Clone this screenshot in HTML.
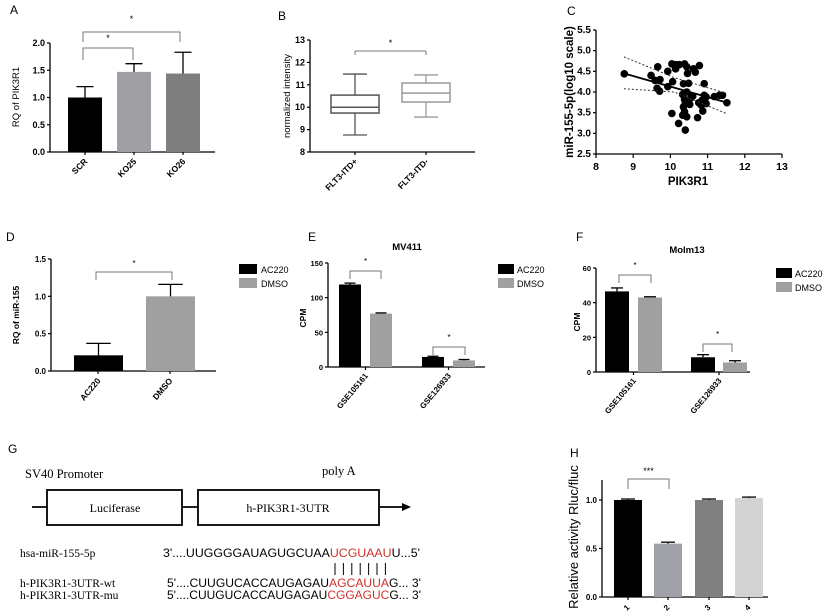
<!DOCTYPE html>
<html><head><meta charset="utf-8"><style>
html,body{margin:0;padding:0;background:#fff;}
svg{display:block;font-family:"Liberation Sans",sans-serif;}
</style></head><body>
<svg id="fig" width="824" height="616" viewBox="0 0 824 616"></svg>
<script>
// ---------- data ----------
const aCats=['SCR','KO25','KO26'];
const aVals=[1.0,1.47,1.44];
const aErr=[1.2,1.62,1.83];
const aTicks=[0,0.5,1.0,1.5,2.0];
const bCats=['FLT3-ITD+','FLT3-ITD-'];
const bMin=[8.76,9.56];
const bQ1=[9.74,10.23];
const bMed=[10.0,10.63];
const bQ3=[10.54,11.08];
const bMax=[11.48,11.44];
const bTicks=[8,9,10,11,12,13];
const cX=[8.76,9.48,9.59,9.66,9.72,9.64,9.71,9.93,9.93,10.04,10.06,10.04,10.14,10.15,10.24,10.33,10.22,10.38,10.35,10.44,10.46,10.49,10.44,10.38,10.40,10.35,10.38,10.33,10.40,10.44,10.49,10.55,10.6,10.62,10.67,10.73,10.76,10.78,10.83,10.85,10.87,10.91,10.91,10.96,10.96,11.18,11.32,11.40,11.52,10.42,10.52];
const cY=[4.44,4.40,4.28,4.61,4.30,4.09,4.02,4.50,4.13,4.68,4.25,3.48,4.56,4.66,4.66,3.94,3.24,4.68,4.20,4.61,4.45,4.21,4.00,3.82,3.72,3.64,3.52,3.44,3.08,3.40,3.78,3.86,3.9,4.56,4.48,3.38,3.74,4.64,3.68,3.80,3.54,4.20,3.92,3.72,3.88,3.89,3.92,3.92,3.74,3.78,3.70];
const cFit=[[8.75,4.45],[11.5,3.75]];
const cUpper=[[8.75,4.85],[10.1,4.35],[11.5,3.97]];
const cLower=[[8.75,4.08],[10.1,4.0],[11.5,3.48]];
const cXTicks=[8,9,10,11,12,13];
const cYTicks=[2.5,3.0,3.5,4.0,4.5,5.0,5.5];
const dCats=['AC220','DMSO'];
const dVals=[0.21,1.0];
const dErr=[0.37,1.16];
const dTicks=[0,0.5,1.0,1.5];
const eCats=['GSE105161','GSE126933'];
const eAC=[119,14.5];
const eACErr=[121,15.5];
const eDM=[77,9.5];
const eDMErr=[78,10.8];
const eTicks=[0,50,100,150];
const fAC=[46.5,8.5];
const fACErr=[48.5,10];
const fDM=[43,5.5];
const fDMErr=[43.4,6.5];
const fTicks=[0,20,40,60];
const hCats=['1','2','3','4'];
const hVals=[1.0,0.55,1.0,1.02];
const hErr=[1.01,0.565,1.01,1.03];
const hTicks=[0,0.5,1.0];

// ---------- helpers ----------
const NS='http://www.w3.org/2000/svg';
const svg=document.getElementById('fig');
function el(tag,attrs,name,parent){
  const e=document.createElementNS(NS,tag);
  for(const k in attrs) e.setAttribute(k,attrs[k]);
  
  
  (parent||svg).appendChild(e);
  return e;
}
function txt(x,y,s,size,name,opt){
  opt=opt||{};
  const t=el('text',{x:x,y:y,'font-size':size,fill:opt.fill||'#000','font-weight':opt.bold?'bold':'normal','text-anchor':opt.anchor||'start'},name);
  if(opt.family) t.setAttribute('font-family',opt.family);
  if(opt.rot!==undefined) t.setAttribute('transform','rotate('+opt.rot+' '+x+' '+y+')');
  if(opt.italic) t.setAttribute('font-style','italic');
  if(opt.len) {t.setAttribute('textLength',opt.len);t.setAttribute('lengthAdjust','spacingAndGlyphs');}
  t.textContent=s;
  return t;
}
function line(x1,y1,x2,y2,name,w,col,dash){
  const l=el('line',{x1:x1,y1:y1,x2:x2,y2:y2,stroke:col||'#000','stroke-width':w||1.2},name);
  if(dash) l.setAttribute('stroke-dasharray',dash);
  return l;
}
function lin(d0,d1,r0,r1){return v=>r0+(v-d0)/(d1-d0)*(r1-r0);}
function yAxis(x,scale,ticks,fmt,size,prefix){
  line(x,scale(ticks[0]),x,scale(ticks[ticks.length-1]),prefix+'-y-axis',1.3);
  ticks.forEach(t=>{
    line(x-3,scale(t),x,scale(t),prefix+'-y-tick',1.2);
    txt(x-5,scale(t)+3,fmt(t),size,prefix+'-y-tick-label',{anchor:'end',bold:true});
  });
}
function bar(x,w,v,e,scale,col,name){
  el('rect',{x:x,y:scale(v),width:w,height:scale(0)-scale(v),fill:col},name);
  line(x+w/2,scale(v),x+w/2,scale(e),name+'-error',1.3);
  line(x+w/2-w/4,scale(e),x+w/2+w/4,scale(e),name+'-error-cap',1.3);
}
function bracket(x1,x2,y,drop,star,sy,size,prefix){
  el('path',{d:'M'+x1+' '+(y+drop)+' V'+y+' H'+x2+' V'+(y+drop),fill:'none',stroke:'#777','stroke-width':1},prefix+'-significance-bracket');
  txt((x1+x2)/2,sy,star,size,prefix+'-significance-star',{anchor:'middle'});
}

// ---------- Panel A ----------
txt(10,14,'A',12,'panel-a-label');
const ya=lin(0,2,152,43);
yAxis(50,ya,aTicks,v=>v.toFixed(1),9,'panel-a');
line(50,152,215,152,'panel-a-x-axis',1.3);
const aX=[68,117,166], aCol=['#000','#a0a0a4','#7f7f7f'];
aCats.forEach((c,i)=>{
  bar(aX[i],34,aVals[i],aErr[i],ya,aCol[i],'panel-a-bar-'+c.toLowerCase());
  line(aX[i]+17,152,aX[i]+17,155,'panel-a-x-tick',1.2);
  txt(aX[i]+20,162,c,8.5,'panel-a-x-label',{anchor:'end',bold:true,rot:-45});
});
bracket(83,133,48,12,'*',41,9,'panel-a-inner');
bracket(83,180,32,10,'*',22,9,'panel-a-outer');
txt(19,97,'RQ of PIK3R1',9.5,'panel-a-y-title',{anchor:'middle',rot:-90});

// ---------- Panel B ----------
txt(278,20,'B',12,'panel-b-label');
const yb=lin(8,13,152,40);
yAxis(310,yb,bTicks,v=>String(v),9,'panel-b');
line(310,152,475,152,'panel-b-x-axis',1.3);
const bXc=[355,426], bCol=['#555','#999'];
bCats.forEach((c,i)=>{
  const cx=bXc[i], w=48, col=bCol[i];
  line(cx,yb(bMin[i]),cx,yb(bQ1[i]),'panel-b-whisker-low',1.3,col);
  line(cx,yb(bQ3[i]),cx,yb(bMax[i]),'panel-b-whisker-high',1.3,col);
  line(cx-12,yb(bMin[i]),cx+12,yb(bMin[i]),'panel-b-whisker-cap',1.3,col);
  line(cx-12,yb(bMax[i]),cx+12,yb(bMax[i]),'panel-b-whisker-cap',1.3,col);
  el('rect',{x:cx-w/2,y:yb(bQ3[i]),width:w,height:yb(bQ1[i])-yb(bQ3[i]),fill:'#fff',stroke:col,'stroke-width':1.5},'panel-b-box-'+i);
  line(cx-w/2,yb(bMed[i]),cx+w/2,yb(bMed[i]),'panel-b-median',1.5,col);
  line(cx,152,cx,155,'panel-b-x-tick',1.2);
  txt(cx+3,162,c,8.5,'panel-b-x-label',{anchor:'end',bold:true,rot:-45});
});
bracket(355,426,51,0,'*',46,9,'panel-b');
line(355,51,355,55,'panel-b-bracket-leg',1,'#777');line(426,51,426,55,'panel-b-bracket-leg',1,'#777');
txt(290,96,'normalized intensity',9.5,'panel-b-y-title',{anchor:'middle',rot:-90});

// ---------- Panel C ----------
txt(567,15,'C',12,'panel-c-label');
const xc=lin(8,13,596,782), yc=lin(2.5,5.5,154,30);
yAxis(596,yc,cYTicks,v=>v.toFixed(1),10,'panel-c');
line(596,154,782,154,'panel-c-x-axis',1.3);
cXTicks.forEach(t=>{
  line(xc(t),154,xc(t),158,'panel-c-x-tick',1.2);
  txt(xc(t),170,String(t),10.5,'panel-c-x-tick-label',{anchor:'middle',bold:true});
});
cX.forEach((v,i)=>{el('circle',{cx:xc(v),cy:yc(cY[i]),r:3.8,fill:'#000'},'panel-c-point');});
line(xc(cFit[0][0]),yc(cFit[0][1]),xc(cFit[1][0]),yc(cFit[1][1]),'panel-c-regression-line',1.8);
el('polyline',{points:cUpper.map(p=>xc(p[0])+','+yc(p[1])).join(' '),fill:'none',stroke:'#333','stroke-width':1,'stroke-dasharray':'2,2'},'panel-c-ci-upper');
el('polyline',{points:cLower.map(p=>xc(p[0])+','+yc(p[1])).join(' '),fill:'none',stroke:'#333','stroke-width':1,'stroke-dasharray':'2,2'},'panel-c-ci-lower');
txt(688,185,'PIK3R1',11.5,'panel-c-x-title',{anchor:'middle',bold:true});
txt(573,92,'miR-155-5p(log10 scale)',11.5,'panel-c-y-title',{anchor:'middle',bold:true,rot:-90});

// ---------- Panel D ----------
txt(6,241,'D',12,'panel-d-label');
const yd=lin(0,1.5,371,259);
yAxis(51,yd,dTicks,v=>v.toFixed(1),8,'panel-d');
line(51,371,216,371,'panel-d-x-axis',1.3);
const dX=[74,146], dCol=['#000','#a0a0a0'];
dCats.forEach((c,i)=>{
  bar(dX[i],49,dVals[i],dErr[i],yd,dCol[i],'panel-d-bar-'+c.toLowerCase());
  line(dX[i]+24,371,dX[i]+24,374,'panel-d-x-tick',1.2);
  txt(dX[i]+27,381,c,8.5,'panel-d-x-label',{anchor:'end',bold:true,rot:-50});
});
bracket(96,172,272,8,'*',266,8,'panel-d');
txt(19,315,'RQ of miR-155',8.5,'panel-d-y-title',{anchor:'middle',bold:true,rot:-90});
el('rect',{x:239,y:264,width:18,height:10,fill:'#000'},'panel-d-legend-swatch-ac220');
txt(261,273,'AC220',9,'panel-d-legend-ac220');
el('rect',{x:239,y:278,width:18,height:10,fill:'#a0a0a0'},'panel-d-legend-swatch-dmso');
txt(261,287,'DMSO',9,'panel-d-legend-dmso');

// ---------- Panel E / F helper ----------
function groupPanel(prefix,ax,ys,ticks,ac,acE,dm,dmE,xs,w,y0,axEnd,br,legendX,legendY,title,titleX,titleY){
  yAxis(ax,ys,ticks,v=>String(v),7.5,prefix);
  line(ax,y0,axEnd,y0,prefix+'-x-axis',1.3);
  eCats.forEach((c,i)=>{
    bar(xs[i][0],w,ac[i],acE[i],ys,'#000',prefix+'-bar-ac220-'+c.toLowerCase());
    bar(xs[i][1],w,dm[i],dmE[i],ys,'#a0a0a0',prefix+'-bar-dmso-'+c.toLowerCase());
    const cx=(xs[i][0]+xs[i][1]+w)/2;
    line(cx,y0,cx,y0+3,prefix+'-x-tick',1.2);
    txt(cx+3,y0+9,c,8,prefix+'-x-label',{anchor:'end',bold:true,rot:-50});
    bracket(br[i][0],br[i][1],br[i][2],8,'*',br[i][2]-7,8,prefix+'-group'+(i+1));
  });
  txt(titleX,titleY,title,9.5,prefix+'-title',{anchor:'middle',bold:true});
  el('rect',{x:legendX,y:legendY,width:16,height:10,fill:'#000'},prefix+'-legend-swatch-ac220');
  txt(legendX+19,legendY+9,'AC220',9,prefix+'-legend-ac220');
  el('rect',{x:legendX,y:legendY+14,width:16,height:10,fill:'#a0a0a0'},prefix+'-legend-swatch-dmso');
  txt(legendX+19,legendY+23,'DMSO',9,prefix+'-legend-dmso');
}
txt(308,241,'E',12,'panel-e-label');
const ye=lin(0,150,367,263);
groupPanel('panel-e',328,ye,eTicks,eAC,eACErr,eDM,eDMErr,[[339,370],[422,453]],22,367,485,[[350,381,271],[433,465,347]],498,264,'MV411',407,250);
txt(306,318,'CPM',8.5,'panel-e-y-title',{anchor:'middle',bold:true,rot:-90});

txt(576,241,'F',12,'panel-f-label');
const yf=lin(0,60,372,268);
groupPanel('panel-f',596,yf,fTicks,fAC,fACErr,fDM,fDMErr,[[605,638],[691,723]],24,372,750,[[619,651,275],[703,732,344]],776,268,'Molm13',687,253);
txt(580,322,'CPM',8.5,'panel-f-y-title',{anchor:'middle',bold:true,rot:-90});

// ---------- Panel G ----------
const serif='"Liberation Serif",serif';
txt(8,453,'G',12,'panel-g-label');
txt(25,478,'SV40 Promoter',12.5,'sv40-promoter-label',{family:serif});
txt(322,475,'poly A',12.5,'poly-a-label',{family:serif});
line(32,507,404,507,'construct-backbone',1.8);
el('path',{d:'M411 507 L402 503 L402 511 Z',fill:'#000'},'construct-arrowhead');
el('rect',{x:47,y:490,width:135,height:35,fill:'#fff',stroke:'#000','stroke-width':1.8},'luciferase-box');
txt(115,512,'Luciferase',12,'luciferase-label',{anchor:'middle',family:serif});
el('rect',{x:198,y:490,width:181,height:35,fill:'#fff',stroke:'#000','stroke-width':1.8},'utr-box');
txt(288,512,'h-PIK3R1-3UTR',12,'utr-label',{anchor:'middle',family:serif});
txt(20,557,'hsa-miR-155-5p',11.5,'mirna-name',{family:serif});
txt(20,587,'h-PIK3R1-3UTR-wt',11.5,'wt-name',{family:serif});
txt(20,599,'h-PIK3R1-3UTR-mu',11.5,'mu-name',{family:serif});
function seq(x,y,parts,len,name){
  const t=el('text',{x:x,y:y,'font-size':11.5,textLength:len,lengthAdjust:'spacingAndGlyphs'},name);
  parts.forEach(p=>{const s=el('tspan',{fill:p[1]},name+'-part',t);s.textContent=p[0];});
}
seq(163,557,[["3'....UUGGGGAUAGUGCUAA",'#000'],['UCGUAAU','#d0302c'],["U...5'",'#000']],257,'mirna-sequence');
seq(167,587,[["5'....CUUGUCACCAUGAGAU",'#000'],['AGCAUUA','#d0302c'],["G... 3'",'#000']],254,'wt-sequence');
seq(167,599,[["5'....CUUGUCACCAUGAGAU",'#000'],['CGGAGUC','#d0302c'],["G... 3'",'#000']],254,'mu-sequence');
for(let i=0;i<7;i++){line(335+i*8.4,563,335+i*8.4,575,'base-pair-line',1);}

// ---------- Panel H ----------
txt(570,457,'H',12,'panel-h-label');
const yh=lin(0,1.0,597,500);
line(602,597,602,480,'panel-h-y-axis',1.3);
hTicks.forEach(t=>{line(599,yh(t),602,yh(t),'panel-h-y-tick',1.2);txt(597,yh(t)+3,t.toFixed(1),8,'panel-h-y-tick-label',{anchor:'end',bold:true});});
line(602,597,768,597,'panel-h-x-axis',1.3);
const hX=[614,654,695,735], hCol=['#000','#a0a0a8','#808080','#d3d3d3'];
hCats.forEach((c,i)=>{
  bar(hX[i],28,hVals[i],hErr[i],yh,hCol[i],'panel-h-bar-'+c);
  line(hX[i]+14,597,hX[i]+14,600,'panel-h-x-tick',1.2);
  txt(hX[i]+16,608,c,8,'panel-h-x-label',{anchor:'end',bold:true,rot:-45});
});
bracket(628,669,479,10,'***',474,9,'panel-h');
txt(578,537,'Relative activity Rluc/fluc',13,'panel-h-y-title',{anchor:'middle',rot:-90});
</script>
</body></html>
